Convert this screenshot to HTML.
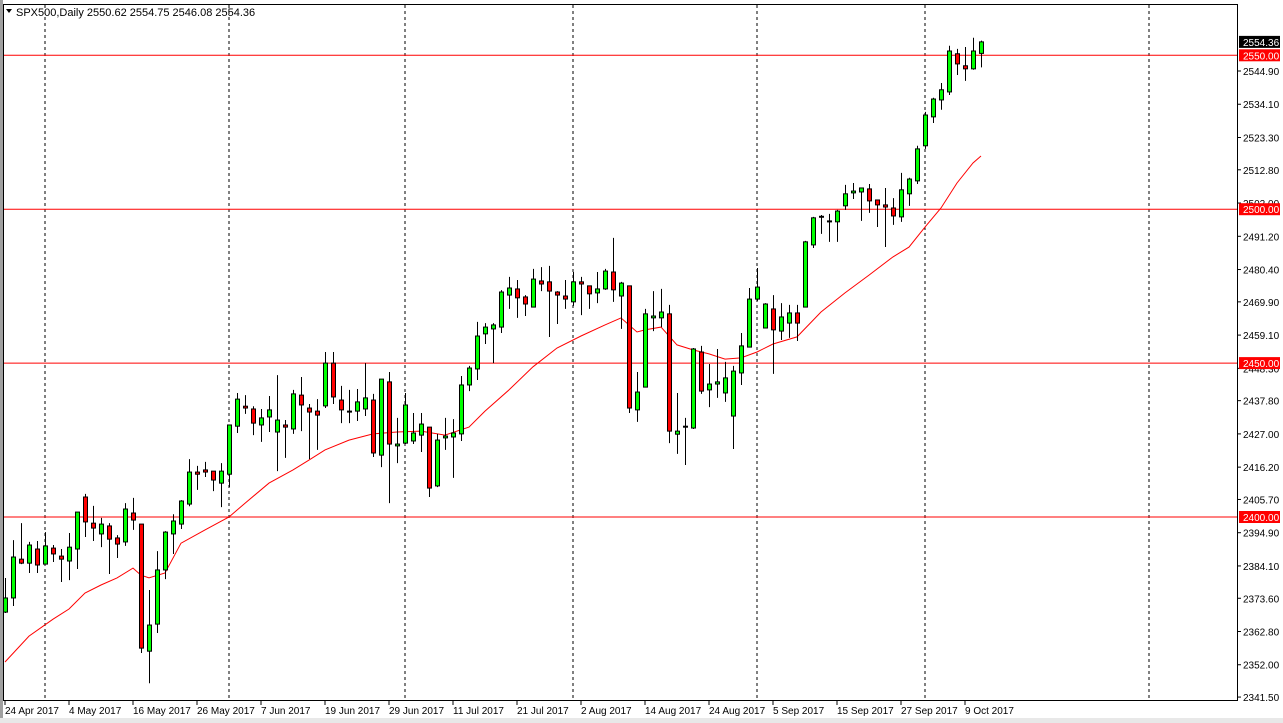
<!DOCTYPE html>
<html><head><meta charset="utf-8"><style>
html,body{margin:0;padding:0;background:#fff;width:1283px;height:723px;overflow:hidden}
svg{display:block;font-family:"Liberation Sans",sans-serif}
</style></head><body>
<svg id="chart" width="1283" height="723" viewBox="0 0 1283 723" xmlns="http://www.w3.org/2000/svg">
<rect x="0" y="0" width="1283" height="723" fill="#fff"/>
<rect x="0" y="0" width="3" height="723" fill="#a0a0a0"/>
<rect x="0" y="718" width="1283" height="5" fill="#e8e8e8"/>
<g id="grid"></g>
<g id="hlines"></g>
<g id="ma"></g>
<g id="candles"></g>
<rect x="3.5" y="4.5" width="1234" height="696" fill="none" stroke="#000" stroke-width="1"/>
<g id="yaxis"></g>
<g id="xaxis"></g>
<polygon points="6,9 12,9 9,13" fill="#000"/>
<text x="16" y="16" font-size="11" fill="#000">SPX500,Daily  2550.62 2554.75 2546.08 2554.36</text>
</svg>
<script>
const opens=[2369.1,2373.7,2386.3,2385.0,2389.6,2384.7,2389.9,2387.3,2385.7,2389.6,2406.5,2398.0,2394.5,2397.1,2393.2,2391.9,2401.3,2397.7,2356.4,2365.2,2382.8,2394.5,2397.7,2404.2,2414.6,2415.3,2414.9,2411.0,2413.9,2429.5,2436.0,2435.1,2429.9,2432.5,2427.6,2429.9,2428.6,2439.6,2435.4,2434.4,2436.1,2450.0,2438.0,2434.4,2434.4,2435.1,2438.0,2420.1,2443.9,2423.1,2424.0,2424.7,2426.6,2429.2,2410.1,2425.7,2426.0,2427.0,2442.9,2448.1,2459.5,2461.1,2461.7,2472.1,2474.1,2471.5,2468.2,2476.7,2476.4,2473.1,2471.8,2469.9,2476.4,2475.1,2472.8,2474.1,2479.6,2471.8,2475.1,2434.8,2442.2,2464.7,2464.7,2466.0,2426.9,2429.2,2428.9,2453.6,2441.3,2443.2,2440.3,2432.8,2446.8,2455.2,2470.8,2461.4,2467.6,2460.4,2463.0,2466.3,2468.2,2488.4,2497.5,2496.2,2495.9,2501.1,2505.3,2505.6,2506.6,2503.0,2501.4,2500.4,2497.5,2505.0,2509.2,2520.6,2530.0,2535.5,2538.1,2550.5,2546.6,2545.6,2550.62];
const highs=[2380.2,2392.5,2398.0,2391.9,2392.2,2395.1,2390.9,2389.6,2394.8,2401.6,2407.5,2403.6,2399.7,2398.0,2394.1,2404.5,2406.2,2397.7,2376.3,2388.9,2395.4,2400.9,2405.5,2418.8,2416.6,2417.9,2414.9,2417.5,2429.9,2440.3,2439.6,2436.0,2435.1,2439.3,2446.1,2431.5,2441.3,2445.5,2436.7,2438.3,2453.6,2453.6,2442.6,2441.3,2441.6,2450.0,2440.0,2444.8,2447.1,2432.2,2440.3,2433.8,2433.8,2429.2,2427.0,2432.2,2431.8,2445.8,2449.1,2463.4,2463.0,2463.0,2473.7,2478.0,2477.0,2472.1,2480.6,2481.2,2481.6,2473.4,2477.0,2479.6,2478.0,2475.1,2479.6,2480.6,2490.7,2476.4,2475.1,2447.1,2467.6,2473.4,2474.1,2468.9,2440.3,2432.2,2454.9,2455.6,2449.7,2454.6,2450.4,2449.1,2459.8,2474.4,2480.9,2469.5,2472.1,2469.5,2468.9,2468.9,2489.7,2497.5,2498.1,2498.5,2499.8,2507.9,2508.5,2506.9,2508.2,2503.0,2506.9,2503.6,2511.8,2510.2,2520.6,2531.6,2536.2,2541.0,2553.1,2552.1,2552.7,2555.7,2554.75];
const lows=[2368.8,2371.1,2384.7,2381.8,2381.8,2384.7,2385.4,2378.9,2379.5,2383.1,2393.5,2392.2,2390.2,2381.5,2386.7,2390.6,2395.8,2355.8,2346.0,2362.3,2379.8,2388.0,2396.1,2403.5,2408.8,2413.0,2408.4,2403.2,2409.7,2427.3,2433.5,2426.6,2424.4,2427.6,2414.9,2419.2,2427.0,2427.9,2418.8,2421.8,2435.4,2436.7,2430.5,2430.5,2431.2,2432.8,2419.5,2416.2,2404.5,2417.5,2423.7,2423.7,2421.1,2406.5,2409.7,2421.8,2412.7,2424.7,2440.9,2444.5,2456.2,2450.0,2459.8,2467.6,2464.7,2465.3,2468.2,2473.4,2458.5,2462.7,2467.6,2468.6,2465.6,2467.6,2469.5,2473.8,2469.9,2461.1,2433.8,2430.9,2442.2,2460.4,2461.7,2424.0,2420.5,2416.9,2428.6,2440.0,2435.7,2438.7,2437.4,2422.1,2442.9,2455.2,2470.2,2461.4,2446.5,2457.5,2458.2,2457.2,2468.2,2487.4,2492.0,2489.4,2489.4,2499.8,2503.3,2496.2,2498.8,2494.2,2487.7,2494.9,2495.9,2501.1,2508.2,2519.6,2528.0,2532.3,2537.1,2543.6,2541.7,2545.3,2546.08];
const closes=[2373.7,2387.0,2385.0,2390.9,2384.4,2390.6,2388.0,2386.3,2390.2,2401.6,2398.4,2396.4,2397.7,2392.8,2391.2,2402.6,2399.0,2357.4,2364.9,2382.8,2395.1,2398.7,2405.2,2414.6,2413.9,2414.6,2412.0,2414.9,2429.9,2438.3,2435.4,2430.5,2432.2,2434.8,2431.5,2429.2,2440.0,2436.4,2434.1,2433.1,2450.0,2439.0,2434.8,2434.1,2437.4,2438.7,2420.8,2444.8,2423.7,2423.7,2436.4,2427.3,2430.2,2409.4,2425.0,2426.3,2427.3,2442.9,2448.4,2458.8,2461.7,2462.4,2473.1,2474.4,2471.2,2469.2,2477.3,2475.7,2473.4,2472.1,2470.8,2476.4,2475.7,2472.5,2474.1,2479.9,2473.8,2476.0,2435.4,2440.6,2466.0,2465.3,2466.6,2427.9,2427.9,2429.5,2454.6,2440.9,2443.2,2443.9,2445.2,2447.4,2455.6,2470.8,2474.7,2469.2,2460.8,2465.0,2466.3,2463.0,2489.4,2497.2,2497.7,2495.9,2499.4,2505.0,2505.9,2506.9,2502.7,2501.4,2500.7,2497.8,2506.3,2509.8,2519.6,2530.6,2535.8,2538.8,2551.4,2547.2,2545.6,2551.4,2554.36];
const maIdx=[0,3,6,8,10,12,14,16,17,18,20,22,25,28,30,33,36,38,40,43,46,49,52,55,58,60,63,66,69,72,75,77,79,80,82,84,86,88,90,92,94,96,99,102,105,108,111,113,115,117,119,121,122];
const maVals=[2352.9,2361.3,2366.8,2370.1,2375.3,2377.9,2380.2,2383.4,2381.1,2380.2,2381.8,2391.5,2395.8,2400.0,2404.5,2411.0,2415.3,2418.5,2421.8,2425.0,2427.0,2427.6,2427.9,2426.6,2429.2,2434.4,2441.3,2448.8,2454.9,2458.8,2462.4,2464.7,2460.1,2460.8,2461.7,2455.9,2454.3,2453.0,2451.3,2451.7,2453.6,2456.2,2458.5,2466.6,2472.8,2478.6,2484.5,2487.7,2494.2,2500.4,2508.5,2515.0,2517.3];
const yTicks=[2544.90,2534.10,2523.30,2512.80,2502.00,2491.20,2480.40,2469.90,2459.10,2448.30,2437.80,2427.00,2416.20,2405.70,2394.90,2384.10,2373.60,2362.80,2352.00,2341.50];
const levels=[2550,2500,2450,2400];
const dateLabels=["24 Apr 2017","4 May 2017","16 May 2017","26 May 2017","7 Jun 2017","19 Jun 2017","29 Jun 2017","11 Jul 2017","21 Jul 2017","2 Aug 2017","14 Aug 2017","24 Aug 2017","5 Sep 2017","15 Sep 2017","27 Sep 2017","9 Oct 2017"];
const monthStartIdx=[5,28,50,71,94,115,143];
const lastPrice=2554.36;

const NS="http://www.w3.org/2000/svg";
function X(i){return 5+8*i;}
function Y(p){return 71+(2544.9-p)*3.078;}
function mk(tag,parent,attrs){const e=document.createElementNS(NS,tag);for(const k in attrs)e.setAttribute(k,attrs[k]);document.getElementById(parent).appendChild(e);return e;}

monthStartIdx.forEach(i=>{
  const l=mk('line','grid',{x1:X(i),x2:X(i),y1:5,y2:700,stroke:'#000','stroke-width':1,'stroke-dasharray':'3,3'});
  
  
});
levels.forEach(p=>{
  const l=mk('line','hlines',{x1:4,x2:1238,y1:Y(p),y2:Y(p),stroke:'#ff0000','stroke-width':1});
  
  
});
let pts=maIdx.map((i,k)=>X(i)+','+Y(maVals[k]).toFixed(1)).join(' ');
const ml=mk('polyline','ma',{points:pts,fill:'none',stroke:'#ff0000','stroke-width':1});



opens.forEach((o,i)=>{
  const c=closes[i],x=X(i),up=c>=o;
  const w=mk('line','candles',{x1:x+0.5,x2:x+0.5,y1:Y(highs[i]),y2:Y(lows[i]),stroke:'#000','stroke-width':1});
  
  
  const top=Y(Math.max(o,c)),bot=Y(Math.min(o,c));
  const b=mk('rect','candles',{x:x-1.5,y:top,width:4,height:Math.max(1,bot-top),fill:up?'#00ff00':'#ff0000',stroke:'#000','stroke-width':1});
  
  
});

yTicks.forEach(p=>{
  const y=Y(p);
  const t=mk('line','yaxis',{x1:1238,x2:1241,y1:y,y2:y,stroke:'#000'});
  
  
  const tx=mk('text','yaxis',{x:1243,y:y+4,'font-size':10,fill:'#000'});
  tx.textContent=p.toFixed(2);
  
  
});
levels.forEach(p=>{
  const y=Y(p);
  const r=mk('rect','yaxis',{x:1239,y:y-6,width:41,height:12,fill:'#ff0000'});
  
  
  const tx=mk('text','yaxis',{x:1243,y:y+4,'font-size':10,fill:'#fff'});
  tx.textContent=p.toFixed(2);
  
  
});
{
  const y=Y(lastPrice);
  const r=mk('rect','yaxis',{x:1239,y:y-6,width:41,height:12,fill:'#000'});
  
  
  const tx=mk('text','yaxis',{x:1243,y:y+4,'font-size':10,fill:'#fff'});
  tx.textContent=lastPrice.toFixed(2);
  
  
}
dateLabels.forEach((d,k)=>{
  const x=X(8*k);
  const t=mk('line','xaxis',{x1:x,x2:x,y1:701,y2:705,stroke:'#000'});
  
  
  const tx=mk('text','xaxis',{x:x,y:714,'font-size':10,fill:'#000'});
  tx.textContent=d;
  
  
});
</script>
</body></html>
